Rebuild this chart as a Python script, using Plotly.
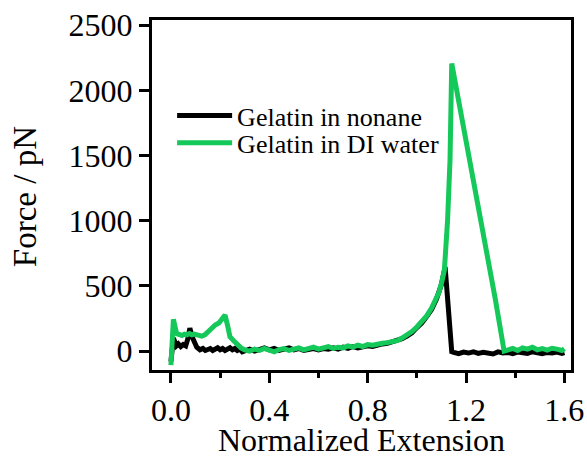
import plotly.graph_objects as go

# Gelatin in nonane (black)
x_nonane = [0.000, 0.004, 0.010, 0.016, 0.022, 0.030, 0.040, 0.050, 0.060, 0.068, 0.077, 0.086, 0.095, 0.105, 0.118,
            0.13, 0.14, 0.15, 0.16, 0.17, 0.18, 0.19, 0.20, 0.21, 0.22, 0.23, 0.24, 0.25, 0.26, 0.27, 0.28, 0.29,
            0.30, 0.32, 0.34, 0.36, 0.38, 0.40, 0.42, 0.44, 0.46, 0.48, 0.50, 0.52, 0.54, 0.56, 0.58, 0.60,
            0.62, 0.64, 0.66, 0.68, 0.70, 0.72, 0.74, 0.76, 0.78, 0.80, 0.82, 0.84, 0.86, 0.88, 0.90,
            0.92, 0.94, 0.96, 0.98, 1.00, 1.02, 1.04, 1.06, 1.08, 1.10, 1.115, 1.142,
            1.15, 1.17, 1.19, 1.21, 1.23, 1.25, 1.27, 1.29, 1.31, 1.33, 1.35, 1.37, 1.39, 1.41, 1.43, 1.45,
            1.47, 1.49, 1.51, 1.53, 1.55, 1.57, 1.59, 1.60]
f_nonane = [-80, 30, 100, 70, 40, 55, 35, 50, 40, 90, 176, 110, 60, 30, 10,
            20, 5, 15, 20, 5, 15, 25, 10, 20, 5, 15, 25, 10, 20, 5, 15, -5,
            5, 15, 0, 10, 25, 10, 20, 5, 15, 25, 10, 20, 5, 15, 20, 10,
            20, 15, 25, 15, 30, 20, 35, 25, 30, 40, 35, 50, 55, 60, 70,
            80, 95, 115, 140, 180, 215, 265, 320, 400, 510, 646, -5,
            -10, -20, -8, -15, -5, -18, -10, -12, -22, -6, -15, -10, -20, -8, -14, -18,
            -5, -12, -20, -10, -15, -8, -18, -12]

# Gelatin in DI water (green)
x_water = [0.000, 0.010, 0.023, 0.035, 0.045, 0.055, 0.065, 0.075, 0.085, 0.095, 0.11, 0.125, 0.138,
           0.15, 0.165, 0.18, 0.195, 0.205, 0.22, 0.23, 0.24, 0.255, 0.27, 0.285,
           0.30, 0.32, 0.34, 0.36, 0.38, 0.40, 0.42, 0.44, 0.46, 0.48, 0.50, 0.52, 0.54, 0.56, 0.58, 0.60,
           0.62, 0.64, 0.66, 0.68, 0.70, 0.72, 0.74, 0.76, 0.78, 0.80, 0.82, 0.84, 0.86, 0.88, 0.90,
           0.92, 0.94, 0.96, 0.98, 1.00, 1.02, 1.04, 1.06, 1.08, 1.09, 1.10, 1.112, 1.125, 1.135, 1.142,
           1.20, 1.26, 1.32, 1.355,
           1.37, 1.39, 1.41, 1.43, 1.45, 1.47, 1.49, 1.51, 1.53, 1.55, 1.57, 1.59, 1.60]
f_water = [-107, 243, 135, 130, 120, 130, 125, 135, 125, 130, 120, 115, 125,
           150, 170, 200, 215, 245, 276, 200, 110, 80, 50, 25,
           10, 0, 15, 5, 20, 8, -5, 12, 20, 5, 15, 25, 10, 18, 30, 15,
           25, 35, 20, 30, 25, 40, 30, 45, 35, 50, 45, 55, 60, 65, 75,
           80, 100, 120, 150, 185, 225, 270, 330, 400, 450, 520, 620, 1000, 1465, 2206,
           1620, 1000, 390, 0,
           10, 20, 5, 25, 15, 30, 10, 20, 8, 22, 15, 5, 18]

x_ticks = [0.0, 0.4, 0.8, 1.2, 1.6]
x_tick_labels = ["0.0", "0.4", "0.8", "1.2", "1.6"]
x_minor_ticks = [0.2, 0.6, 1.0, 1.4]
y_ticks = [0, 500, 1000, 1500, 2000, 2500]
y_tick_labels = ["0", "500", "1000", "1500", "2000", "2500"]
x_title = "Normalized Extension"
y_title = "Force / pN"

FONT = "Liberation Serif, Times New Roman, serif"
LEG_FONT = dict(family=FONT, size=26, color="black")

fig = go.Figure()
fig.add_trace(go.Scatter(x=x_nonane, y=f_nonane, mode="lines", name="Gelatin in nonane",
                         line=dict(color="black", width=5), legend="legend"))
fig.add_trace(go.Scatter(x=x_water, y=f_water, mode="lines", name="Gelatin in DI water",
                         line=dict(color="#14c85a", width=5), legend="legend2"))

fig.update_layout(
    template="none",
    width=587, height=456,
    margin=dict(l=152, r=16, t=20, b=86, autoexpand=False),
    paper_bgcolor="white", plot_bgcolor="white",
    font=dict(family=FONT, color="black", size=32),
    showlegend=True,
    legend=dict(x=0.048, y=0.727, xanchor="left", yanchor="middle",
                bgcolor="rgba(0,0,0,0)", font=LEG_FONT, itemwidth=55, borderwidth=0),
    legend2=dict(x=0.048, y=0.649, xanchor="left", yanchor="middle",
                 bgcolor="rgba(0,0,0,0)", font=LEG_FONT, itemwidth=55, borderwidth=0),
    annotations=[
        dict(text=x_title, xref="paper", yref="paper", x=0.5, y=-0.2, xanchor="center", yanchor="middle",
             showarrow=False, font=dict(family=FONT, size=32, color="black")),
        dict(text=y_title, xref="paper", yref="paper", x=-0.303, y=0.494, xanchor="center", yanchor="middle",
             textangle=-90, showarrow=False, font=dict(family=FONT, size=33, color="black")),
    ],
)
fig.update_xaxes(
    range=[-0.077, 1.627], showgrid=False, zeroline=False, automargin=False,
    showline=True, linewidth=3, linecolor="black", mirror=True,
    ticks="outside", ticklen=10, tickwidth=3, tickcolor="black",
    tickvals=x_ticks, ticktext=x_tick_labels,
    tickfont=dict(family=FONT, size=32, color="black"),
    minor=dict(tickvals=x_minor_ticks, ticks="outside", ticklen=5, tickwidth=3, tickcolor="black"),
)
fig.update_yaxes(
    range=[-145, 2540], showgrid=False, zeroline=False, automargin=False,
    showline=True, linewidth=3, linecolor="black", mirror=True,
    ticks="outside", ticklen=10, tickwidth=3, tickcolor="black",
    tickvals=y_ticks, ticktext=y_tick_labels,
    tickfont=dict(family=FONT, size=32, color="black"),
)

fig.write_html("out.html", config={"displayModeBar": False},
               post_script="document.body.style.margin='0';document.body.style.overflow='hidden';")
